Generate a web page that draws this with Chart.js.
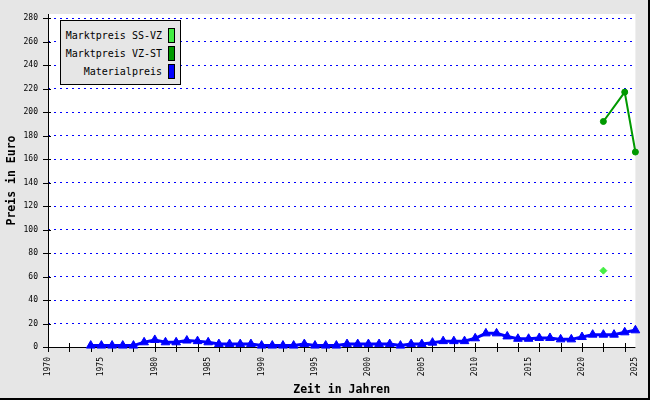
<!DOCTYPE html>
<html><head><meta charset="utf-8">
<script src="https://cdn.jsdelivr.net/npm/chart.js@4.4.0/dist/chart.umd.min.js"></script>
<style>
html,body{margin:0;padding:0;background:#e6e6e6;}
#wrap{position:relative;width:650px;height:400px;overflow:hidden;}
canvas{display:block;}
#legend{position:absolute;left:60px;top:20px;width:119px;height:63px;border:1px solid #000;background:#e6e6e6;font:10px "DejaVu Sans Mono",monospace;color:#000;}
.row{position:absolute;right:5px;height:16px;display:flex;align-items:center;white-space:pre;}
.sw{display:inline-block;width:5px;height:13px;border:1px solid #000;margin-left:6px;}
</style></head><body>
<div id="wrap"><canvas id="c" width="650" height="400"></canvas><div id="legend"></div></div>
<script>
// ---- data ----
const years = [1974,1975,1976,1977,1978,1979,1980,1981,1982,1983,1984,1985,1986,1987,1988,1989,1990,1991,1992,1993,1994,1995,1996,1997,1998,1999,2000,2001,2002,2003,2004,2005,2006,2007,2008,2009,2010,2011,2012,2013,2014,2015,2016,2017,2018,2019,2020,2021,2022,2023,2024,2025];
const materialpreis = [1.2,1.2,1.2,1.2,1.2,4,6,4,4,5.5,5,4,2.5,2.5,2.5,2.5,1.2,1.2,1.2,1.2,2.5,1.2,1.2,1.2,2.5,2.5,2.5,2.5,2.5,1.2,2.5,2.5,3.7,5,5,5,7.4,11.6,11.6,9,7,7,7.7,7.7,6.5,6.5,8.5,10.5,10.5,10.5,12.5,14.2];
const vzstYears = [2022, 2024, 2025];
const vzstPrices = [192, 217, 166];
const ssvzYears = [2022];
const ssvzPrices = [65];
const yTickValues = [0,20,40,60,80,100,120,140,160,180,200,220,240,260,280];
const xTickYears = [1970,1972,1974,1975,1976,1978,1980,1982,1984,1985,1986,1988,1990,1992,1994,1995,1996,1998,2000,2002,2004,2005,2006,2008,2010,2012,2014,2015,2016,2018,2020,2022,2024,2025];
const seriesLabels = ['Marktpreis SS-VZ', 'Marktpreis VZ-ST', 'Materialpreis'];
const seriesColors = ['#44ee44', '#009900', '#0000ff'];

Chart.defaults.font.family = "'DejaVu Sans Mono', monospace";
Chart.defaults.color = '#000';

const toPts = (xs, ys) => xs.map((x, i) => ({x: x, y: ys[i]}));

const decor = {
  id: 'decor',
  beforeDraw(chart) {
    const {ctx, chartArea: a} = chart;
    ctx.save();
    ctx.fillStyle = '#e6e6e6';
    ctx.fillRect(0, 0, chart.width, chart.height);
    ctx.fillStyle = '#ffffff';
    ctx.fillRect(a.left, a.top, a.right - a.left, a.bottom - a.top);
    ctx.restore();
  },
  beforeDatasetsDraw(chart) {
    const {ctx, chartArea: a, scales} = chart;
    ctx.save();
    ctx.strokeStyle = '#000';
    ctx.lineWidth = 1;
    ctx.beginPath();
    ctx.moveTo(a.left + 0.5, a.top);
    ctx.lineTo(a.left + 0.5, a.bottom);
    ctx.moveTo(a.left, a.bottom + 0.5);
    ctx.lineTo(a.right, a.bottom + 0.5);
    scales.x.ticks.forEach(t => {
      if (t.value % 2 !== 0) return;
      const px = Math.round(scales.x.getPixelForValue(t.value)) + 0.5;
      ctx.moveTo(px, a.bottom - 4);
      ctx.lineTo(px, a.bottom + 5);
    });
    scales.y.ticks.forEach(t => {
      const py = Math.round(scales.y.getPixelForValue(t.value)) + 0.5;
      ctx.moveTo(a.left - 5, py);
      ctx.lineTo(a.left + 3, py);
    });
    ctx.stroke();
    ctx.restore();
  },
  afterDraw(chart) {
    const ctx = chart.ctx;
    ctx.save();
    ctx.fillStyle = '#000';
    ctx.fillRect(chart.width - 2, 0, 2, chart.height);
    ctx.fillRect(0, chart.height - 2, chart.width, 2);
    ctx.restore();
  }
};

const chart = new Chart(document.getElementById('c'), {
  type: 'line',
  data: {
    datasets: [
      {
        label: seriesLabels[0],
        data: toPts(ssvzYears, ssvzPrices),
        showLine: false,
        pointStyle: 'rectRot',
        pointRadius: 3.5,
        pointBorderWidth: 1,
        borderColor: seriesColors[0],
        backgroundColor: seriesColors[0],
        clip: false
      },
      {
        label: seriesLabels[1],
        data: toPts(vzstYears, vzstPrices),
        borderColor: seriesColors[1],
        backgroundColor: seriesColors[1],
        borderWidth: 2,
        pointStyle: 'circle',
        pointRadius: 3,
        pointBorderWidth: 1,
        tension: 0,
        clip: false
      },
      {
        label: seriesLabels[2],
        data: toPts(years, materialpreis),
        borderColor: seriesColors[2],
        backgroundColor: seriesColors[2],
        borderWidth: 3,
        pointStyle: 'triangle',
        pointRadius: 5,
        pointBorderWidth: 1,
        tension: 0,
        clip: false
      }
    ]
  },
  options: {
    responsive: false,
    animation: false,
    devicePixelRatio: 1,
    layout: {padding: {top: 14, right: 14, bottom: 0, left: 0}},
    plugins: {legend: {display: false}, tooltip: {enabled: false}},
    scales: {
      x: {
        type: 'linear',
        position: 'bottom',
        min: 1970,
        max: 2025,
        afterBuildTicks: s => { s.ticks = xTickYears.map(v => ({value: v})); },
        afterFit: s => { s.height = 53; },
        ticks: {
          autoSkip: false,
          maxRotation: 90,
          minRotation: 90,
          padding: 5,
          font: {size: 8},
          color: '#000',
          callback: v => (v % 5 === 0 ? String(v) : '')
        },
        grid: {display: true, drawOnChartArea: false, drawTicks: true, tickLength: 5, color: 'transparent', tickColor: 'transparent'},
        border: {display: false},
        title: {display: true, text: 'Zeit in Jahren', color: '#000', font: {size: 11.5, weight: 'bold'}, padding: {top: 0, bottom: 3}}
      },
      y: {
        min: 0,
        max: 283.5,
        afterBuildTicks: s => { s.ticks = yTickValues.map(v => ({value: v})); },
        afterFit: s => { s.width = 48; },
        ticks: {padding: 5, font: {size: 8}, color: '#000'},
        grid: {
          display: true,
          drawTicks: true,
          tickLength: 5,
          tickColor: 'transparent',
          lineWidth: 1,
          color: c => (c.tick && c.tick.value === 0 ? 'transparent' : '#0000ff')
        },
        border: {display: false, dash: [2, 4]},
        title: {display: true, text: 'Preis in Euro', color: '#000', font: {size: 11.5, weight: 'bold'}, padding: {top: 5, bottom: 0}}
      }
    }
  },
  plugins: [decor]
});

// HTML legend built from the chart's datasets
const leg = document.getElementById('legend');
chart.data.datasets.forEach((ds, i) => {
  const row = document.createElement('div');
  row.className = 'row';
  row.style.top = (6 + i * 18) + 'px';
  const txt = document.createElement('span');
  txt.textContent = ds.label;
  const sw = document.createElement('span');
  sw.className = 'sw';
  sw.style.background = ds.borderColor;
  row.appendChild(txt);
  row.appendChild(sw);
  leg.appendChild(row);
});
</script>
</body></html>
